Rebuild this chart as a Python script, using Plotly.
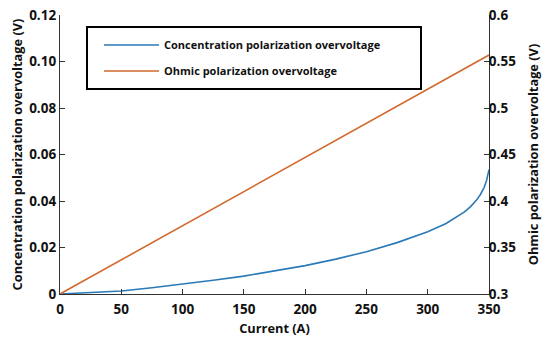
import plotly.graph_objects as go

# Data
current = [0, 25, 50, 75, 100, 125, 150, 175, 200, 225, 250, 275, 300, 315, 325, 330, 335, 340, 343, 346, 348, 350]
conc_overvoltage = [0, 0.0006, 0.0013, 0.0027, 0.0042, 0.0059, 0.0077, 0.0098, 0.0122, 0.0150, 0.0182, 0.0221, 0.0268, 0.0303, 0.0335, 0.0353, 0.0376, 0.0405, 0.0428, 0.0458, 0.0488, 0.0535]
ohmic_current = [0, 350]
ohmic_overvoltage = [0.3, 0.557]

x_ticks = [0, 50, 100, 150, 200, 250, 300, 350]
y1_ticks = [0, 0.02, 0.04, 0.06, 0.08, 0.10, 0.12]
y1_labels = ["0", "0.02", "0.04", "0.06", "0.08", "0.10", "0.12"]
y2_ticks = [0.3, 0.35, 0.4, 0.45, 0.5, 0.55, 0.6]
y2_labels = ["0.3", "0.35", "0.4", "0.45", "0.5", "0.55", "0.6"]

BLUE = "#2a7ab8"
ORANGE = "#d2692d"
FONT = "Open Sans"

fig = go.Figure()
fig.add_trace(go.Scatter(x=current, y=conc_overvoltage, mode="lines",
                         line=dict(color=BLUE, width=1.6),
                         name="<b>Concentration polarization overvoltage</b>",
                         yaxis="y", legend="legend", showlegend=True))
fig.add_trace(go.Scatter(x=ohmic_current, y=ohmic_overvoltage, mode="lines",
                         line=dict(color=ORANGE, width=1.6),
                         name="<b>Ohmic polarization overvoltage</b>",
                         yaxis="y2", legend="legend2", showlegend=True))

axis_common = dict(showgrid=False, zeroline=False, showline=True, linecolor="#333",
                   linewidth=1.3, ticks="inside", ticklen=5, tickcolor="#333", automargin=False,
                   ticklabeloverflow="allow",
                   tickfont=dict(family=FONT, size=13.5, color="#111", weight="bold"))

legend_common = dict(xanchor="left", yanchor="middle", bgcolor="rgba(0,0,0,0)",
                     borderwidth=0, font=dict(family=FONT, size=11, color="#111"),
                     itemwidth=55, visible=True)

TITLE_FONT = dict(family=FONT, size=12.8)

# The page body has an 8 px default margin, so the figure is 8 px smaller.
fig.update_layout(
    width=542, height=339,
    margin=dict(l=52, r=61, t=7, b=53),
    showlegend=True,
    paper_bgcolor="white", plot_bgcolor="white",
    font=dict(family=FONT, color="#111"),
    xaxis=dict(range=[0, 350], tickvals=x_ticks, ticklabelstandoff=3, **axis_common,
               title=dict(text="<b>Current (A)</b>", font=TITLE_FONT, standoff=6)),
    yaxis=dict(range=[0, 0.12], tickvals=y1_ticks, ticktext=y1_labels, **axis_common,
               title=dict(text="<b>Concentration polarization overvoltage (V)</b>",
                          font=TITLE_FONT, standoff=5)),
    yaxis2=dict(range=[0.3, 0.6], tickvals=y2_ticks, ticktext=y2_labels, overlaying="y",
                side="right", ticklabelstandoff=-4, **axis_common,
                title=dict(text="<b>Ohmic polarization overvoltage (V)</b>",
                           font=TITLE_FONT, standoff=13)),
    legend=dict(x=(99 - 60) / 429, y=(294 - 45) / 279, **legend_common),
    legend2=dict(x=(99 - 60) / 429, y=(294 - 71) / 279, **legend_common),
    shapes=[dict(type="rect", xref="paper", yref="paper",
                 x0=(87 - 60) / 429, x1=(421 - 60) / 429,
                 y0=(294 - 89) / 279, y1=(294 - 27) / 279,
                 line=dict(color="black", width=2), fillcolor="rgba(0,0,0,0)")],
)

fig.write_html("out.html")
